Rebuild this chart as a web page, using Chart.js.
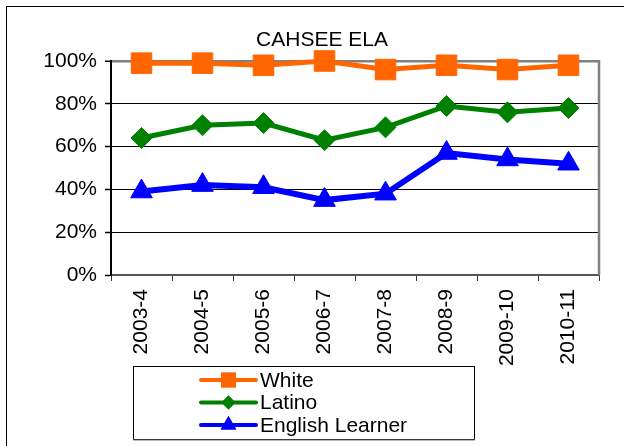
<!DOCTYPE html>
<html>
<head>
<meta charset="utf-8">
<script src="https://cdn.jsdelivr.net/npm/chart.js@4/dist/chart.umd.min.js"></script>
<style>
html,body{margin:0;padding:0;background:#fff;}
#c{display:block;}
</style>
</head>
<body>
<canvas id="c" width="624" height="446"></canvas>
<script>
const categories = ["2003-4","2004-5","2005-6","2006-7","2007-8","2008-9","2009-10","2010-11"];
const whiteValues = [99, 99, 98, 100, 96, 98, 96, 98];
const latinoValues = [64, 70, 71, 63, 69, 79, 76, 78];
const elValues = [39, 42, 41, 35, 38, 57, 54, 52];
const seriesNames = ["White", "Latino", "English Learner"];
const yTicks = [0, 20, 40, 60, 80, 100];
const titleText = "CAHSEE ELA";

const FONT = "'Liberation Sans', Arial, sans-serif";

const decor = {
  id: 'decor',
  afterDraw(chart) {
    const ctx = chart.ctx;
    const a = chart.chartArea;
    ctx.save();
    // outer frame
    ctx.strokeStyle = '#000';
    ctx.lineWidth = 1;
    ctx.strokeRect(6.5, 6.5, 800, 800);
    // right border of plot
    ctx.strokeStyle = '#808080';
    ctx.lineWidth = 2.5;
    ctx.beginPath();
    ctx.moveTo(a.right, a.top - 1);
    ctx.lineTo(a.right, a.bottom);
    ctx.stroke();
    // title
    ctx.fillStyle = '#000';
    ctx.font = '21px ' + FONT;
    ctx.textAlign = 'center';
    ctx.textBaseline = 'alphabetic';
    ctx.fillText(titleText, 322, 46);
    // legend box
    ctx.strokeStyle = '#000';
    ctx.lineWidth = 1;
    ctx.strokeRect(133.5, 366.5, 341, 73);
    ctx.strokeStyle = '#777';
    ctx.beginPath(); ctx.moveTo(133, 440); ctx.lineTo(475, 440); ctx.stroke();
    const rows = [380, 402.5, 425];
    chart.data.datasets.forEach((ds, i) => {
      const y = rows[i];
      ctx.strokeStyle = ds.borderColor;
      ctx.lineWidth = 4;
      ctx.lineCap = 'round';
      ctx.beginPath(); ctx.moveTo(201, y); ctx.lineTo(256, y); ctx.stroke();
      ctx.fillStyle = ds.borderColor;
      Chart.helpers.drawPoint(ctx, {pointStyle: ds.pointStyle, rotation: 0, borderWidth: 0, radius: ds.legendRadius}, 228.5, y);
      ctx.fill();
      ctx.fillStyle = '#000';
      ctx.font = '21px ' + FONT;
      ctx.textAlign = 'left';
      ctx.textBaseline = 'middle';
      ctx.fillText(ds.label, 260, y + 1);
    });
    ctx.restore();
  }
};

new Chart(document.getElementById('c'), {
  type: 'line',
  data: {
    labels: categories,
    datasets: [
      {label: seriesNames[0], data: whiteValues, borderColor: '#FF6600', backgroundColor: '#FF6600',
       borderWidth: 5, pointStyle: 'rect', pointRadius: 14.5, pointBorderWidth: 1, legendRadius: 10.5, clip: false},
      {label: seriesNames[1], data: latinoValues, borderColor: '#008000', backgroundColor: '#008000',
       borderWidth: 5, pointStyle: 'rectRot', pointRadius: 10.5, pointBorderWidth: 1, legendRadius: 7, clip: false},
      {label: seriesNames[2], data: elValues, borderColor: '#0000FF', backgroundColor: '#0000FF',
       borderWidth: 6, pointStyle: 'triangle', pointRadius: 12.5, pointBorderWidth: 1, legendRadius: 9, clip: false}
    ]
  },
  options: {
    responsive: false,
    animation: false,
    devicePixelRatio: 1,
    layout: {padding: {left: 0, top: 61, right: 25, bottom: 0}},
    plugins: {legend: {display: false}, title: {display: false}, tooltip: {enabled: false}},
    elements: {line: {tension: 0}},
    scales: {
      x: {
        offset: true,
        afterFit(s) { s.height = 171; },
        border: {display: true, color: '#555', width: 2},
        grid: {offset: true, drawOnChartArea: false, drawTicks: true, tickLength: 6, tickColor: '#333', tickWidth: 1},
        ticks: {color: '#000', font: {family: FONT, size: 21}, minRotation: 90, maxRotation: 90, padding: 8, autoSkip: false}
      },
      y: {
        min: 0, max: 100,
        afterFit(s) { s.width = 111; },
        afterBuildTicks(s) { s.ticks = yTicks.map(v => ({value: v})); },
        border: {display: true, color: '#000', width: 2},
        grid: {
          color: (c) => c.tick && c.tick.value === 100 ? '#808080' : (c.tick && c.tick.value === 0 ? 'rgba(0,0,0,0)' : '#000'),
          lineWidth: (c) => c.tick && c.tick.value === 100 ? 2.5 : 1,
          tickColor: '#000', tickWidth: 1.5, tickLength: 6, drawTicks: true
        },
        ticks: {color: '#000', font: {family: FONT, size: 21}, padding: 8, callback: (v) => v + '%'}
      }
    }
  },
  plugins: [decor]
});
</script>
</body>
</html>
